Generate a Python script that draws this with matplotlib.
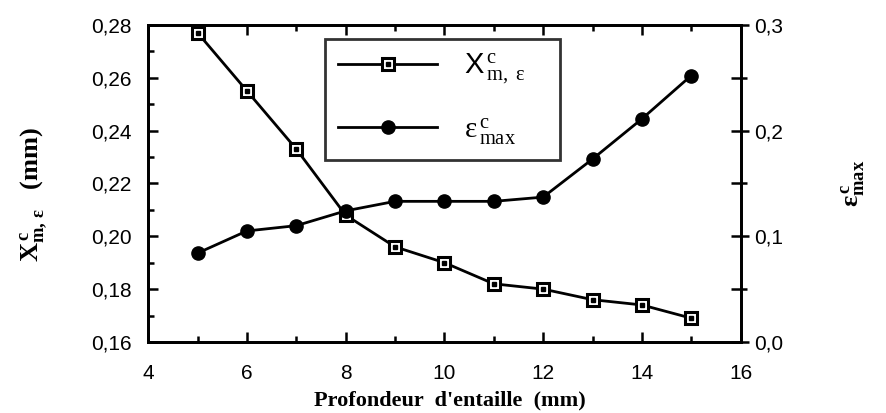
import matplotlib
matplotlib.use("Agg")
import matplotlib.pyplot as plt
import matplotlib.ticker as mtick
from matplotlib.legend_handler import HandlerTuple

# profondeur d'entaille (mm)
depth = [5, 6, 7, 8, 9, 10, 11, 12, 13, 14, 15]
# X^c_{m,eps} (mm), left axis
x_crit = [0.277, 0.255, 0.233, 0.208, 0.196, 0.190, 0.182, 0.180, 0.176, 0.174, 0.169]
# eps^c_max, right axis
eps_max = [0.084, 0.105, 0.110, 0.124, 0.133, 0.133, 0.133, 0.137, 0.173, 0.211, 0.252]

plt.rcParams['font.family'] = ['Liberation Sans', 'DejaVu Sans']
plt.rcParams['mathtext.fontset'] = 'custom'
plt.rcParams['mathtext.rm'] = 'Liberation Serif'
plt.rcParams['mathtext.bf'] = 'Liberation Serif:bold'
plt.rcParams['mathtext.it'] = 'Liberation Serif'

def comma(fmt):
    return mtick.FuncFormatter(lambda v, p: (fmt % v).replace('.', ','))

fig = plt.figure(figsize=(8.87, 4.13), dpi=100)
ax = fig.add_axes([0.167, 0.172, 0.668, 0.768])
ax2 = ax.twinx()

l1, = ax.plot(depth, x_crit, color='black', lw=2.0, marker='s', ms=9,
              mfc='white', mec='black', mew=2.2, zorder=3)
d1, = ax.plot(depth, x_crit, ls='none', marker='s', ms=2.4, color='black', zorder=4)
l2, = ax2.plot(depth, eps_max, color='black', lw=2.0, marker='o', ms=9.5, zorder=3)

ax.set_xlim(4, 16)
ax.set_ylim(0.16, 0.28)
ax2.set_ylim(0.0, 0.3)

ax.xaxis.set_major_locator(mtick.MultipleLocator(2))
ax.xaxis.set_minor_locator(mtick.MultipleLocator(1))
ax.yaxis.set_major_locator(mtick.MultipleLocator(0.02))
ax.yaxis.set_minor_locator(mtick.MultipleLocator(0.01))
ax.yaxis.set_major_formatter(comma('%.2f'))
ax.tick_params(which='both', direction='in', top=True, right=True, width=1.8)
ax.tick_params(which='major', length=7, labelsize=15)
ax.tick_params(axis='y', which='major', pad=12)
ax.tick_params(axis='x', which='major', pad=16)
ax.tick_params(which='minor', length=4)
ax.tick_params(axis='y', which='minor', right=False)

ax2.yaxis.set_major_locator(mtick.MultipleLocator(0.1))
ax2.yaxis.set_minor_locator(mtick.MultipleLocator(0.05))
ax2.yaxis.set_major_formatter(comma('%.1f'))
ax2.tick_params(which='both', direction='out', width=1.8)
ax2.tick_params(which='major', length=6, labelsize=15, pad=4)
ax2.tick_params(which='minor', length=4)

for a in (ax, ax2):
    for s in a.spines.values():
        s.set_linewidth(2.0)

ax.set_xlabel("Profondeur  d'entaille  (mm)", family='Liberation Serif',
              fontweight='bold', fontsize=16, va='center')
ax.xaxis.set_label_coords(0.51, -0.183)
ax.set_ylabel(r"$\mathbf{X^{\,c}_{m,\,ε}}$   (mm)", family='Liberation Serif',
              fontweight='bold', fontsize=19, va='center')
ax.yaxis.set_label_coords(-0.194, 0.464)
ax2.set_ylabel(r"$\mathbf{ε^{\,c}_{max}}$", fontsize=19, rotation=90,
               labelpad=40)

leg = ax.legend([(l1, d1), l2],
                [r"X$^{\,c}_{\,\mathrm{m,\ ε}}$", r"$\mathrm{ε}^{\,c}_{\,\mathrm{max}}$"],
                handler_map={tuple: HandlerTuple(ndivide=1, pad=0)},
                loc='upper left', bbox_to_anchor=(0.2985, 0.5, 0.396, 0.456),
                mode='expand', fontsize=21,
                frameon=True, fancybox=False, edgecolor='black', handlelength=3.4,
                borderpad=0.45, labelspacing=1.0, handletextpad=0.9, borderaxespad=0)
leg.get_frame().set_linewidth(2.0)

fig.savefig("out.png", dpi=100)
